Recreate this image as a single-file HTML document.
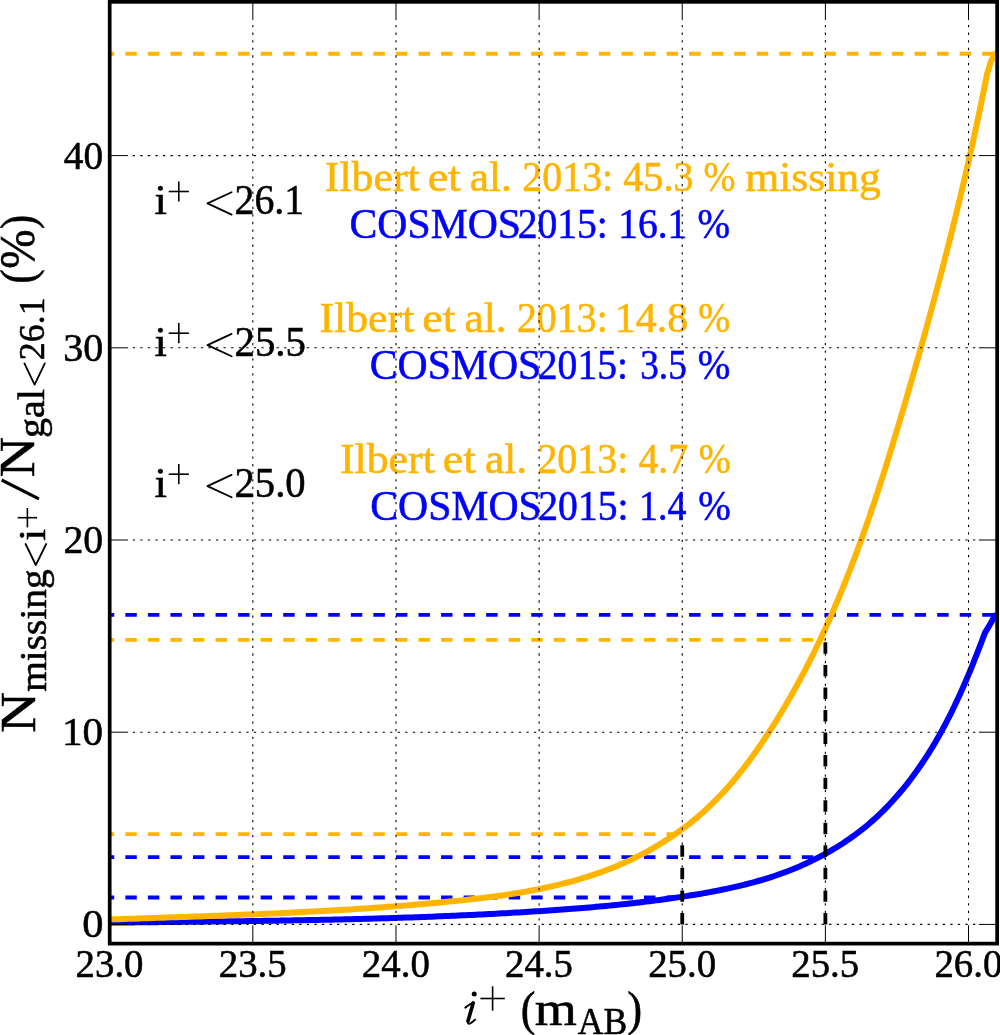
<!DOCTYPE html><html><head><meta charset="utf-8"><style>html,body{margin:0;padding:0;background:#fff;}svg{display:block;will-change:transform}text{font-family:"Liberation Serif",serif;stroke:currentColor;stroke-width:0.55px;}</style></head><body>
<svg width="1000" height="1035" viewBox="0 0 1000 1035">
<rect width="1000" height="1035" fill="#fff"/>
<defs><clipPath id="ax"><rect x="109.70" y="1.84" width="887.44" height="941.78"/></clipPath></defs>
<text x="75.59" y="976.80" font-size="39.7" textLength="67.93" lengthAdjust="spacingAndGlyphs">23.0</text>
<text x="218.72" y="976.80" font-size="39.7" textLength="67.93" lengthAdjust="spacingAndGlyphs">23.5</text>
<text x="361.86" y="976.80" font-size="39.7" textLength="67.93" lengthAdjust="spacingAndGlyphs">24.0</text>
<text x="504.99" y="976.80" font-size="39.7" textLength="67.93" lengthAdjust="spacingAndGlyphs">24.5</text>
<text x="648.13" y="976.80" font-size="39.7" textLength="67.93" lengthAdjust="spacingAndGlyphs">25.0</text>
<text x="791.26" y="976.80" font-size="39.7" textLength="67.93" lengthAdjust="spacingAndGlyphs">25.5</text>
<text x="934.40" y="976.80" font-size="39.7" textLength="67.93" lengthAdjust="spacingAndGlyphs">26.0</text>
<text x="82.20" y="937.30" font-size="39.7" textLength="21.21" lengthAdjust="spacingAndGlyphs">0</text>
<text x="62.07" y="745.10" font-size="39.7" textLength="41.12" lengthAdjust="spacingAndGlyphs">10</text>
<text x="63.45" y="552.90" font-size="39.7" textLength="39.69" lengthAdjust="spacingAndGlyphs">20</text>
<text x="63.19" y="360.70" font-size="39.7" textLength="39.96" lengthAdjust="spacingAndGlyphs">30</text>
<text x="63.86" y="168.50" font-size="39.7" textLength="39.26" lengthAdjust="spacingAndGlyphs">40</text>
<text x="324.81" y="190.50" font-size="41.5" textLength="94.98" lengthAdjust="spacingAndGlyphs" fill="#FFB400" color="#FFB400">Ilbert</text>
<text x="427.66" y="190.50" font-size="41.5" textLength="33.16" lengthAdjust="spacingAndGlyphs" fill="#FFB400" color="#FFB400">et</text>
<text x="469.83" y="190.50" font-size="41.5" textLength="42.12" lengthAdjust="spacingAndGlyphs" fill="#FFB400" color="#FFB400">al.</text>
<text x="522.32" y="190.50" font-size="41.5" textLength="90.83" lengthAdjust="spacingAndGlyphs" fill="#FFB400" color="#FFB400">2013:</text>
<text x="623.27" y="190.50" font-size="41.5" textLength="70.30" lengthAdjust="spacingAndGlyphs" fill="#FFB400" color="#FFB400">45.3</text>
<text x="703.61" y="190.50" font-size="41.5" textLength="32.02" lengthAdjust="spacingAndGlyphs" fill="#FFB400" color="#FFB400">%</text>
<text x="745.21" y="190.50" font-size="41.5" textLength="135.72" lengthAdjust="spacingAndGlyphs" fill="#FFB400" color="#FFB400">missing</text>
<text x="349.54" y="238.00" font-size="41.5" textLength="171.46" lengthAdjust="spacingAndGlyphs" fill="#0000FF" color="#0000FF">COSMOS</text>
<text x="517.63" y="238.00" font-size="41.5" textLength="90.10" lengthAdjust="spacingAndGlyphs" fill="#0000FF" color="#0000FF">2015:</text>
<text x="618.23" y="238.00" font-size="41.5" textLength="69.13" lengthAdjust="spacingAndGlyphs" fill="#0000FF" color="#0000FF">16.1</text>
<text x="697.49" y="238.00" font-size="41.5" textLength="32.56" lengthAdjust="spacingAndGlyphs" fill="#0000FF" color="#0000FF">%</text>
<text x="319.41" y="331.80" font-size="41.5" textLength="94.98" lengthAdjust="spacingAndGlyphs" fill="#FFB400" color="#FFB400">Ilbert</text>
<text x="422.26" y="331.80" font-size="41.5" textLength="33.16" lengthAdjust="spacingAndGlyphs" fill="#FFB400" color="#FFB400">et</text>
<text x="464.43" y="331.80" font-size="41.5" textLength="42.12" lengthAdjust="spacingAndGlyphs" fill="#FFB400" color="#FFB400">al.</text>
<text x="516.92" y="331.80" font-size="41.5" textLength="90.83" lengthAdjust="spacingAndGlyphs" fill="#FFB400" color="#FFB400">2013:</text>
<text x="614.81" y="331.80" font-size="41.5" textLength="73.43" lengthAdjust="spacingAndGlyphs" fill="#FFB400" color="#FFB400">14.8</text>
<text x="698.21" y="331.80" font-size="41.5" textLength="32.02" lengthAdjust="spacingAndGlyphs" fill="#FFB400" color="#FFB400">%</text>
<text x="369.74" y="378.50" font-size="41.5" textLength="171.46" lengthAdjust="spacingAndGlyphs" fill="#0000FF" color="#0000FF">COSMOS</text>
<text x="537.83" y="378.50" font-size="41.5" textLength="90.10" lengthAdjust="spacingAndGlyphs" fill="#0000FF" color="#0000FF">2015:</text>
<text x="640.21" y="378.50" font-size="41.5" textLength="46.55" lengthAdjust="spacingAndGlyphs" fill="#0000FF" color="#0000FF">3.5</text>
<text x="697.69" y="378.50" font-size="41.5" textLength="32.56" lengthAdjust="spacingAndGlyphs" fill="#0000FF" color="#0000FF">%</text>
<text x="339.91" y="472.60" font-size="41.5" textLength="94.98" lengthAdjust="spacingAndGlyphs" fill="#FFB400" color="#FFB400">Ilbert</text>
<text x="442.76" y="472.60" font-size="41.5" textLength="33.16" lengthAdjust="spacingAndGlyphs" fill="#FFB400" color="#FFB400">et</text>
<text x="484.93" y="472.60" font-size="41.5" textLength="42.12" lengthAdjust="spacingAndGlyphs" fill="#FFB400" color="#FFB400">al.</text>
<text x="537.42" y="472.60" font-size="41.5" textLength="90.83" lengthAdjust="spacingAndGlyphs" fill="#FFB400" color="#FFB400">2013:</text>
<text x="638.38" y="472.60" font-size="41.5" textLength="49.80" lengthAdjust="spacingAndGlyphs" fill="#FFB400" color="#FFB400">4.7</text>
<text x="698.71" y="472.60" font-size="41.5" textLength="32.02" lengthAdjust="spacingAndGlyphs" fill="#FFB400" color="#FFB400">%</text>
<text x="370.24" y="519.80" font-size="41.5" textLength="171.46" lengthAdjust="spacingAndGlyphs" fill="#0000FF" color="#0000FF">COSMOS</text>
<text x="538.33" y="519.80" font-size="41.5" textLength="90.10" lengthAdjust="spacingAndGlyphs" fill="#0000FF" color="#0000FF">2015:</text>
<text x="639.08" y="519.80" font-size="41.5" textLength="47.29" lengthAdjust="spacingAndGlyphs" fill="#0000FF" color="#0000FF">1.4</text>
<text x="698.19" y="519.80" font-size="41.5" textLength="32.56" lengthAdjust="spacingAndGlyphs" fill="#0000FF" color="#0000FF">%</text>
<text x="154.53" y="213.80" font-size="42" textLength="12.45" lengthAdjust="spacingAndGlyphs">i</text>
<text x="234.54" y="213.80" font-size="42" textLength="69.63" lengthAdjust="spacingAndGlyphs">26.1</text>
<text x="154.53" y="355.50" font-size="42" textLength="12.45" lengthAdjust="spacingAndGlyphs">i</text>
<text x="234.50" y="355.50" font-size="42" textLength="71.40" lengthAdjust="spacingAndGlyphs">25.5</text>
<text x="154.53" y="496.50" font-size="42" textLength="12.45" lengthAdjust="spacingAndGlyphs">i</text>
<text x="234.51" y="496.50" font-size="42" textLength="71.15" lengthAdjust="spacingAndGlyphs">25.0</text>
<text x="520.66" y="1024.50" font-size="48" textLength="14.71" lengthAdjust="spacingAndGlyphs">(</text>
<text x="534.87" y="1024.50" font-size="48" textLength="42.08" lengthAdjust="spacingAndGlyphs">m</text>
<text x="577.76" y="1033.60" font-size="37.5" textLength="49.38" lengthAdjust="spacingAndGlyphs">AB</text>
<text x="627.20" y="1024.50" font-size="48" textLength="14.88" lengthAdjust="spacingAndGlyphs">)</text>
<g transform="rotate(-90)">
<text x="-732.88" y="34.80" font-size="50.4" textLength="40.65" lengthAdjust="spacingAndGlyphs">N</text>
<text x="-691.78" y="45.70" font-size="38" textLength="122.45" lengthAdjust="spacingAndGlyphs">missing</text>
<text x="-540.84" y="45.30" font-size="37.7" textLength="11.77" lengthAdjust="spacingAndGlyphs">i</text>
<text x="-477.35" y="34.40" font-size="50.7" textLength="40.38" lengthAdjust="spacingAndGlyphs">N</text>
<text x="-438.07" y="43.50" font-size="37.5" textLength="49.06" lengthAdjust="spacingAndGlyphs">gal</text>
<text x="-360.18" y="43.70" font-size="36.3" textLength="62.73" lengthAdjust="spacingAndGlyphs">26.1</text>
<text x="-283.72" y="33.70" font-size="48.6" textLength="14.54" lengthAdjust="spacingAndGlyphs">(</text>
<text x="-268.86" y="34.20" font-size="49.6" textLength="39.29" lengthAdjust="spacingAndGlyphs">%</text>
<text x="-229.12" y="33.70" font-size="48.6" textLength="14.24" lengthAdjust="spacingAndGlyphs">)</text>
</g>
<g clip-path="url(#ax)">
<path d="M109.65,922.63 L113.01,922.59 L116.38,922.55 L119.74,922.52 L123.10,922.48 L126.46,922.45 L129.82,922.41 L133.18,922.38 L136.54,922.34 L139.90,922.31 L143.27,922.27 L146.63,922.24 L149.99,922.20 L153.35,922.17 L156.71,922.13 L160.07,922.10 L163.43,922.06 L166.79,922.03 L170.15,921.99 L173.51,921.96 L176.87,921.92 L180.23,921.89 L183.59,921.85 L186.95,921.81 L190.31,921.78 L193.66,921.74 L197.02,921.71 L200.38,921.67 L203.74,921.63 L207.10,921.59 L210.46,921.55 L213.82,921.51 L217.18,921.47 L220.53,921.43 L223.89,921.39 L227.25,921.35 L230.61,921.31 L233.97,921.27 L237.32,921.22 L240.68,921.18 L244.04,921.14 L247.40,921.09 L250.75,921.04 L254.11,921.00 L257.47,920.95 L260.82,920.90 L264.18,920.85 L267.54,920.80 L270.89,920.75 L274.25,920.70 L277.61,920.64 L280.96,920.59 L284.32,920.53 L287.68,920.48 L291.03,920.42 L294.39,920.36 L297.74,920.30 L301.10,920.24 L304.45,920.18 L307.81,920.11 L311.16,920.05 L314.52,919.98 L317.87,919.92 L321.23,919.85 L324.58,919.78 L327.94,919.71 L331.29,919.63 L334.65,919.56 L338.00,919.48 L341.35,919.40 L344.71,919.33 L348.06,919.24 L351.41,919.16 L354.77,919.08 L358.12,918.99 L361.47,918.91 L364.83,918.82 L368.18,918.73 L371.53,918.63 L374.89,918.54 L378.24,918.44 L381.59,918.35 L384.94,918.25 L388.30,918.14 L391.65,918.04 L395.00,917.93 L398.35,917.83 L401.70,917.72 L405.05,917.61 L408.41,917.49 L411.76,917.38 L415.11,917.26 L418.46,917.14 L421.81,917.02 L425.16,916.89 L428.51,916.76 L431.86,916.63 L435.21,916.50 L438.56,916.37 L441.91,916.23 L445.26,916.10 L448.61,915.95 L451.96,915.81 L455.31,915.67 L458.66,915.52 L462.01,915.37 L465.36,915.21 L468.71,915.06 L472.06,914.90 L475.41,914.74 L478.75,914.58 L482.10,914.41 L485.45,914.24 L488.80,914.07 L492.15,913.89 L495.49,913.72 L498.84,913.54 L502.19,913.35 L505.54,913.17 L508.88,912.98 L512.23,912.79 L515.58,912.59 L518.93,912.40 L522.27,912.20 L525.62,911.99 L528.97,911.79 L532.31,911.58 L535.66,911.36 L539.00,911.15 L542.35,910.93 L545.70,910.71 L549.04,910.48 L552.39,910.25 L555.73,910.02 L559.08,909.78 L562.42,909.54 L565.77,909.29 L569.11,909.04 L572.46,908.78 L575.80,908.52 L579.15,908.26 L582.49,907.99 L585.84,907.71 L589.18,907.43 L592.53,907.14 L595.87,906.85 L599.22,906.55 L602.56,906.25 L605.91,905.94 L609.26,905.62 L612.60,905.29 L615.95,904.96 L619.29,904.62 L622.64,904.28 L625.98,903.92 L629.33,903.56 L632.68,903.19 L636.02,902.82 L639.37,902.43 L642.72,902.04 L646.06,901.64 L649.41,901.23 L652.76,900.81 L656.10,900.38 L659.45,899.95 L662.80,899.50 L666.15,899.05 L669.50,898.58 L672.85,898.11 L676.19,897.62 L679.54,897.13 L682.89,896.62 L686.24,896.11 L689.59,895.58 L692.94,895.04 L696.29,894.49 L699.64,893.93 L702.98,893.35 L706.32,892.76 L709.66,892.15 L712.99,891.52 L716.32,890.88 L719.65,890.23 L722.97,889.55 L726.29,888.86 L729.60,888.14 L732.90,887.41 L736.20,886.65 L739.49,885.88 L742.77,885.08 L746.05,884.26 L749.31,883.41 L752.57,882.55 L755.82,881.65 L759.05,880.74 L762.28,879.79 L765.50,878.82 L768.70,877.82 L771.90,876.80 L775.08,875.74 L778.25,874.66 L781.40,873.54 L784.54,872.40 L787.67,871.22 L790.79,870.02 L793.88,868.77 L796.97,867.50 L800.04,866.20 L803.09,864.86 L806.12,863.49 L809.14,862.09 L812.14,860.65 L815.12,859.18 L818.08,857.68 L821.02,856.15 L823.95,854.58 L826.85,852.98 L829.73,851.34 L832.59,849.68 L835.43,847.98 L838.25,846.24 L841.05,844.48 L843.82,842.67 L846.57,840.84 L849.29,838.97 L851.99,837.07 L854.67,835.13 L857.32,833.16 L859.95,831.16 L862.54,829.12 L865.12,827.05 L867.66,824.94 L870.18,822.80 L872.67,820.62 L875.13,818.41 L877.56,816.17 L879.97,813.89 L882.35,811.58 L884.70,809.25 L887.03,806.88 L889.32,804.48 L891.60,802.05 L893.84,799.59 L896.06,797.11 L898.25,794.59 L900.42,792.05 L902.56,789.49 L904.68,786.89 L906.77,784.28 L908.83,781.64 L910.87,778.97 L912.89,776.28 L914.88,773.57 L916.85,770.84 L918.79,768.09 L920.70,765.31 L922.60,762.52 L924.47,759.71 L926.31,756.87 L928.14,754.02 L929.93,751.16 L931.71,748.27 L933.46,745.37 L935.19,742.45 L936.90,739.52 L938.59,736.58 L940.25,733.62 L941.89,730.64 L943.51,727.66 L945.10,724.66 L946.68,721.65 L948.24,718.64 L949.77,715.61 L951.29,712.57 L952.78,709.52 L954.26,706.47 L955.72,703.41 L957.16,700.34 L958.58,697.27 L959.99,694.19 L961.38,691.11 L962.75,688.03 L964.10,684.94 L965.44,681.85 L966.77,678.76 L968.08,675.66 L969.37,672.57 L970.65,669.48 L971.92,666.38 L973.17,663.29 L974.41,660.21 L975.64,657.12 L976.85,654.04 L978.06,650.96 L979.25,647.89 L980.43,644.83 L981.60,641.77 L982.76,638.72 L983.91,635.67 L985.05,632.64 L990.70,623.20 L994.80,615.70 L997.00,614.60" fill="none" stroke="#0000FF" stroke-width="6.0" stroke-linejoin="round"/>
<line x1="102.8" y1="614.96" x2="997.14" y2="614.96" stroke="#0000FF" stroke-width="3.8" stroke-dasharray="11.45 11.1"/>
<line x1="102.8" y1="857.13" x2="825.38" y2="857.13" stroke="#0000FF" stroke-width="3.8" stroke-dasharray="11.45 11.1"/>
<line x1="102.8" y1="897.49" x2="682.24" y2="897.49" stroke="#0000FF" stroke-width="3.8" stroke-dasharray="11.45 11.1"/>
<line x1="102.8" y1="53.73" x2="997.14" y2="53.73" stroke="#FFB400" stroke-width="3.8" stroke-dasharray="11.45 11.1"/>
<line x1="102.8" y1="639.94" x2="825.38" y2="639.94" stroke="#FFB400" stroke-width="3.8" stroke-dasharray="11.45 11.1"/>
<line x1="102.8" y1="834.07" x2="682.24" y2="834.07" stroke="#FFB400" stroke-width="3.8" stroke-dasharray="11.45 11.1"/>
<path d="M109.60,919.49 L114.38,919.32 L119.17,919.16 L123.94,918.99 L128.72,918.83 L133.49,918.66 L138.25,918.50 L143.01,918.34 L147.77,918.18 L152.52,918.02 L157.27,917.85 L162.02,917.69 L166.76,917.53 L171.50,917.37 L176.23,917.21 L180.96,917.04 L185.69,916.88 L190.42,916.71 L195.14,916.55 L199.87,916.38 L204.58,916.21 L209.30,916.04 L214.02,915.87 L218.73,915.69 L223.44,915.52 L228.15,915.34 L232.85,915.16 L237.56,914.97 L242.26,914.79 L246.97,914.60 L251.67,914.41 L256.37,914.21 L261.07,914.01 L265.77,913.81 L270.46,913.60 L275.16,913.39 L279.86,913.18 L284.55,912.96 L289.25,912.74 L293.95,912.52 L298.64,912.29 L303.34,912.05 L308.03,911.81 L312.73,911.57 L317.43,911.32 L322.13,911.06 L326.83,910.80 L331.53,910.53 L336.23,910.26 L340.93,909.98 L345.63,909.70 L350.34,909.41 L355.04,909.11 L359.75,908.80 L364.46,908.49 L369.17,908.18 L373.88,907.85 L378.60,907.52 L383.32,907.18 L388.04,906.83 L392.76,906.48 L397.49,906.12 L402.21,905.75 L406.95,905.37 L411.68,904.98 L416.42,904.59 L421.16,904.19 L425.90,903.77 L430.65,903.35 L435.40,902.92 L440.15,902.48 L444.91,902.03 L449.67,901.57 L454.44,901.10 L459.20,900.62 L463.97,900.12 L468.73,899.60 L473.50,899.06 L478.26,898.51 L483.02,897.94 L487.78,897.34 L492.53,896.72 L497.28,896.08 L502.02,895.41 L506.76,894.71 L511.49,893.98 L516.21,893.23 L520.92,892.44 L525.63,891.62 L530.32,890.76 L535.00,889.87 L539.67,888.94 L544.33,887.98 L548.97,886.97 L553.60,885.92 L558.22,884.83 L562.82,883.70 L567.40,882.52 L571.96,881.30 L576.51,880.02 L581.04,878.70 L585.55,877.32 L590.04,875.90 L594.51,874.42 L598.95,872.88 L603.37,871.29 L607.77,869.64 L612.15,867.94 L616.50,866.17 L620.82,864.34 L625.12,862.45 L629.39,860.49 L633.63,858.47 L637.84,856.39 L642.02,854.25 L646.16,852.04 L650.27,849.78 L654.35,847.45 L658.39,845.06 L662.40,842.61 L666.37,840.09 L670.29,837.52 L674.18,834.89 L678.03,832.20 L681.83,829.44 L685.59,826.63 L689.30,823.76 L692.97,820.83 L696.59,817.84 L700.16,814.79 L703.68,811.69 L707.15,808.52 L710.57,805.30 L713.94,802.02 L717.25,798.68 L720.51,795.29 L723.72,791.85 L726.89,788.36 L730.01,784.83 L733.08,781.24 L736.10,777.62 L739.09,773.95 L742.03,770.25 L744.93,766.51 L747.79,762.73 L750.61,758.93 L753.39,755.09 L756.14,751.23 L758.86,747.34 L761.54,743.42 L764.18,739.49 L766.80,735.53 L769.39,731.56 L771.95,727.58 L774.48,723.58 L776.98,719.56 L779.46,715.53 L781.91,711.49 L784.33,707.43 L786.72,703.35 L789.09,699.27 L791.43,695.17 L793.75,691.05 L796.04,686.93 L798.30,682.79 L800.54,678.63 L802.76,674.47 L804.95,670.29 L807.12,666.10 L809.27,661.90 L811.39,657.69 L813.49,653.46 L815.56,649.22 L817.62,644.98 L819.65,640.72 L821.66,636.45 L823.65,632.17 L825.62,627.88 L827.57,623.58 L829.50,619.27 L831.40,614.95 L833.29,610.62 L835.16,606.28 L837.01,601.94 L838.84,597.58 L840.66,593.21 L842.45,588.84 L844.23,584.46 L845.99,580.07 L847.73,575.67 L849.46,571.27 L851.17,566.85 L852.86,562.43 L854.54,558.01 L856.21,553.57 L857.85,549.13 L859.49,544.69 L861.11,540.23 L862.71,535.77 L864.30,531.31 L865.88,526.84 L867.44,522.36 L868.99,517.88 L870.53,513.39 L872.06,508.90 L873.57,504.41 L875.07,499.91 L876.56,495.40 L878.04,490.90 L879.51,486.38 L880.97,481.87 L882.42,477.35 L883.86,472.83 L885.29,468.30 L886.72,463.78 L888.13,459.25 L889.53,454.71 L890.93,450.18 L892.32,445.64 L893.70,441.10 L895.07,436.56 L896.44,432.02 L897.80,427.48 L899.16,422.94 L900.51,418.39 L901.85,413.85 L903.19,409.31 L904.52,404.76 L905.85,400.22 L907.18,395.67 L908.50,391.13 L909.81,386.59 L911.12,382.04 L912.43,377.50 L913.74,372.96 L915.04,368.41 L916.33,363.87 L917.62,359.33 L918.91,354.78 L920.19,350.24 L921.46,345.69 L922.74,341.15 L924.00,336.60 L925.27,332.06 L926.52,327.51 L927.78,322.97 L929.02,318.42 L930.27,313.87 L931.51,309.32 L932.74,304.77 L933.97,300.22 L935.19,295.66 L936.41,291.11 L937.62,286.55 L938.83,282.00 L940.03,277.44 L941.23,272.88 L942.42,268.32 L943.60,263.76 L944.78,259.19 L945.96,254.63 L947.13,250.06 L948.29,245.49 L949.45,240.92 L950.60,236.35 L951.75,231.77 L952.89,227.19 L954.02,222.61 L955.15,218.03 L956.28,213.45 L957.39,208.86 L958.50,204.27 L959.61,199.68 L960.71,195.09 L961.80,190.49 L962.89,185.89 L963.97,181.29 L965.04,176.68 L966.11,172.07 L967.17,167.46 L968.23,162.85 L969.27,158.23 L970.32,153.61 L971.35,148.98 L972.38,144.35 L973.40,139.72 L974.42,135.09 L975.43,130.45 L976.43,125.81 L977.42,121.16 L978.41,116.51 L979.39,111.86 L980.36,107.20 L981.33,102.54 L982.29,97.88 L983.24,93.21 L984.19,88.54 L985.13,83.86 L986.06,79.18 L986.98,74.49 L990.90,61.70 L994.30,54.80 L997.00,53.20" fill="none" stroke="#FFB400" stroke-width="6.0" stroke-linejoin="round"/>
<line x1="682.24" y1="924.40" x2="682.24" y2="834.07" stroke="#000" stroke-width="3.8" stroke-dasharray="11.45 11.1"/>
<line x1="825.38" y1="924.40" x2="825.38" y2="639.94" stroke="#000" stroke-width="3.8" stroke-dasharray="11.45 11.1"/>
<g stroke="#000" stroke-width="1.1" stroke-dasharray="2.3 5.27"><line x1="252.83" y1="925.32" x2="252.83" y2="20.14" stroke-dashoffset="18.00"/><line x1="395.97" y1="925.32" x2="395.97" y2="20.14" stroke-dashoffset="18.00"/><line x1="539.11" y1="925.32" x2="539.11" y2="20.14" stroke-dashoffset="18.00"/><line x1="682.24" y1="925.32" x2="682.24" y2="20.14" stroke-dashoffset="18.00"/><line x1="825.38" y1="925.32" x2="825.38" y2="20.14" stroke-dashoffset="18.00"/><line x1="968.51" y1="925.32" x2="968.51" y2="20.14" stroke-dashoffset="18.00"/><line x1="128.00" y1="924.40" x2="978.84" y2="924.40" stroke-dashoffset="18.00"/><line x1="128.00" y1="732.20" x2="978.84" y2="732.20" stroke-dashoffset="18.00"/><line x1="128.00" y1="540.00" x2="978.84" y2="540.00" stroke-dashoffset="18.00"/><line x1="128.00" y1="347.80" x2="978.84" y2="347.80" stroke-dashoffset="18.00"/><line x1="128.00" y1="155.60" x2="978.84" y2="155.60" stroke-dashoffset="18.00"/></g>
</g>
<g stroke="#000" stroke-width="1.6"><line x1="168.70" y1="191.50" x2="188.90" y2="191.50"/><line x1="178.80" y1="181.40" x2="178.80" y2="201.60"/><line x1="168.70" y1="333.20" x2="188.90" y2="333.20"/><line x1="178.80" y1="323.10" x2="178.80" y2="343.30"/><line x1="168.70" y1="474.20" x2="188.90" y2="474.20"/><line x1="178.80" y1="464.10" x2="178.80" y2="484.30"/><line x1="480.40" y1="998.50" x2="504.80" y2="998.50"/><line x1="492.60" y1="986.30" x2="492.60" y2="1010.70"/><line x1="17.70" y1="517.70" x2="37.10" y2="517.70"/><line x1="27.40" y1="508.00" x2="27.40" y2="527.40"/></g>
<line x1="1.6" y1="480.0" x2="38.9" y2="498.8" stroke="#000" stroke-width="3.1"/>
<g fill="none" stroke="#000" stroke-width="1.8" stroke-linecap="round" stroke-linejoin="round"><polyline points="231.6,192.20 207.5,203.40 231.6,214.60"/><polyline points="231.6,333.90 207.5,345.10 231.6,356.30"/><polyline points="231.6,474.90 207.5,486.10 231.6,497.30"/><polyline points="25.6,544.0 35.8,565.0 46.2,544.0"/><polyline points="24.4,363.4 34.6,384.6 44.8,363.4"/></g>
<circle cx="474.2" cy="993.9" r="2.5" fill="#000"/>
<path d="M465.4,1007.6 C468.2,1005.4 470.6,1003.6 473.2,1002.9 L468.0,1021.0 C467.5,1023.2 468.4,1024.2 470.2,1023.3 C471.9,1022.4 473.6,1021.1 475.0,1019.8" fill="none" stroke="#000" stroke-width="2.0" stroke-linecap="round" stroke-linejoin="round"/>
<path d="M473.2,1002.9 L468.0,1021.0" fill="none" stroke="#000" stroke-width="3.6" stroke-linecap="round"/>
<g stroke="#000" stroke-width="1.0"><line x1="109.70" y1="943.62" x2="109.70" y2="925.32"/><line x1="109.70" y1="1.84" x2="109.70" y2="20.14"/><line x1="252.83" y1="943.62" x2="252.83" y2="925.32"/><line x1="252.83" y1="1.84" x2="252.83" y2="20.14"/><line x1="395.97" y1="943.62" x2="395.97" y2="925.32"/><line x1="395.97" y1="1.84" x2="395.97" y2="20.14"/><line x1="539.11" y1="943.62" x2="539.11" y2="925.32"/><line x1="539.11" y1="1.84" x2="539.11" y2="20.14"/><line x1="682.24" y1="943.62" x2="682.24" y2="925.32"/><line x1="682.24" y1="1.84" x2="682.24" y2="20.14"/><line x1="825.38" y1="943.62" x2="825.38" y2="925.32"/><line x1="825.38" y1="1.84" x2="825.38" y2="20.14"/><line x1="968.51" y1="943.62" x2="968.51" y2="925.32"/><line x1="968.51" y1="1.84" x2="968.51" y2="20.14"/><line x1="109.70" y1="924.40" x2="128.00" y2="924.40"/><line x1="997.14" y1="924.40" x2="978.84" y2="924.40"/><line x1="109.70" y1="732.20" x2="128.00" y2="732.20"/><line x1="997.14" y1="732.20" x2="978.84" y2="732.20"/><line x1="109.70" y1="540.00" x2="128.00" y2="540.00"/><line x1="997.14" y1="540.00" x2="978.84" y2="540.00"/><line x1="109.70" y1="347.80" x2="128.00" y2="347.80"/><line x1="997.14" y1="347.80" x2="978.84" y2="347.80"/><line x1="109.70" y1="155.60" x2="128.00" y2="155.60"/><line x1="997.14" y1="155.60" x2="978.84" y2="155.60"/></g>
<rect x="109.70" y="1.84" width="887.44" height="941.78" fill="none" stroke="#000" stroke-width="3.7"/>
</svg></body></html>
